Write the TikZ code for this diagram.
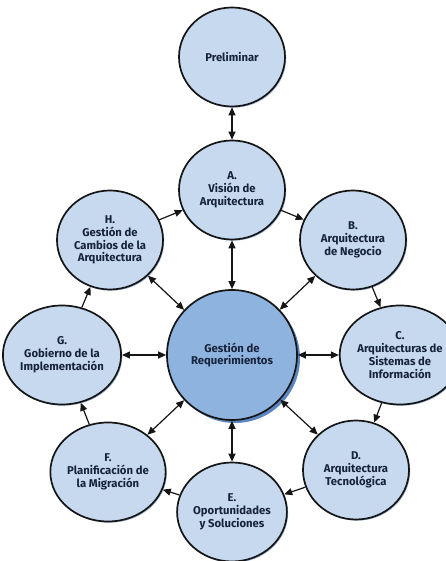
\documentclass[tikz,border=0pt]{standalone}
\usepackage{fontspec}
\setmainfont{Fira Sans}
\usetikzlibrary{shadows,arrows.meta,shapes.geometric}
\definecolor{outerfill}{HTML}{C6D9EF}
\definecolor{centerfill}{HTML}{8FB3DF}
\definecolor{shadowblue}{HTML}{5B86C0}
\definecolor{txt}{HTML}{17233A}
\definecolor{edge}{HTML}{151515}
\begin{document}
\begin{tikzpicture}[x=1pt,y=1pt,
  phase/.style={ellipse, draw=edge, line width=1.7pt, fill=outerfill,
    minimum width=106pt, minimum height=99pt, inner sep=0pt, align=center,
    text=txt, font=\fontsize{11.3}{12.8}\selectfont\bfseries,
    drop shadow={shadow xshift=1.2pt, shadow yshift=-1.2pt, fill=shadowblue, opacity=0.6}},
  core/.style={circle, draw=edge, line width=1.7pt, fill=centerfill,
    minimum size=130pt, inner sep=0pt, align=center,
    text=txt, font=\fontsize{11.3}{12.8}\selectfont\bfseries,
    drop shadow={shadow xshift=3pt, shadow yshift=-3pt, fill=shadowblue, opacity=1}},
  link/.style={-{Triangle[length=8pt,width=7pt]}, line width=1.2pt, draw=edge},
  dlink/.style={{Triangle[length=8pt,width=7pt]}-{Triangle[length=8pt,width=7pt]}, line width=1.2pt, draw=edge}
]
\useasboundingbox (0,0) rectangle (446,561);
\node[phase] (P) at (232,504) {Preliminar};
\node[phase] (A) at (232,371) {A.\\Visión de\\Arquitectura};
\node[phase] (B) at (353,321) {B.\\Arquitectura\\de Negocio};
\node[phase] (C) at (400,206) {C.\\Arquitecturas de\\Sistemas de\\Información};
\node[phase] (D) at (356,91) {D.\\Arquitectura\\Tecnológica};
\node[phase] (E) at (232,49) {E.\\Oportunidades\\y Soluciones};
\node[phase] (F) at (108,89) {F.\\Planificación de\\la Migración};
\node[phase] (G) at (62,206) {G.\\Gobierno de la\\Implementación};
\node[phase] (H) at (110,321) {H.\\Gestión de\\Cambios de la\\Arquitectura};
\node[core] (R) at (232,206) {Gestión de\\Requerimientos};
\draw[dlink] (P) -- (A);
\draw[link] (A) -- (B);
\draw[link] (B) -- (C);
\draw[link] (C) -- (D);
\draw[link] (D) -- (E);
\draw[link] (E) -- (F);
\draw[link] (F) -- (G);
\draw[link] (G) -- (H);
\draw[link] (H) -- (A);
\foreach \n in {A,B,C,D,E,F,G,H} {\draw[dlink] (R) -- (\n);}
\end{tikzpicture}
\end{document}
